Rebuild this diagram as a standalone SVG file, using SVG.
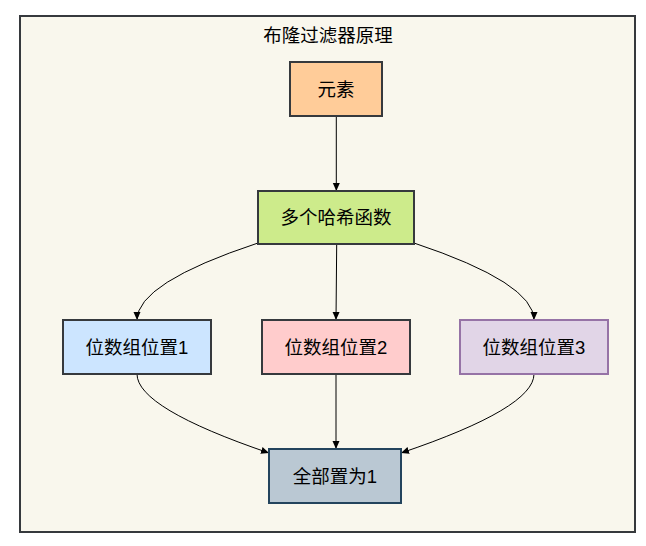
<svg xmlns="http://www.w3.org/2000/svg" width="646" height="546" viewBox="0 0 646 546">
<defs>
<style>
.node{stroke:#36393d;stroke-width:2}
.lbl{font-family:"Liberation Sans","Noto Sans CJK SC",sans-serif;font-size:18.5px;fill:#000;text-anchor:middle}
.edge{fill:none;stroke:#000;stroke-width:1;marker-end:url(#arrow)}
</style>
<marker id="arrow" viewBox="0 0 8 8" refX="8" refY="4" markerWidth="8" markerHeight="8" markerUnits="userSpaceOnUse" orient="auto">
<path d="M0,0.5 L8,4 L0,7.5 Z" fill="#000"/>
</marker>
</defs>
<rect width="646" height="546" fill="#ffffff"/>
<g id="frame">
<rect x="20" y="16" width="615" height="516" fill="#f9f7ed" stroke="#36393d" stroke-width="2"/>
<text class="lbl" x="328" y="42">布隆过滤器原理</text>
</g>
<g id="connectors">
<path class="edge" d="M336.3,116 L336.3,191"/>
<path class="edge" d="M258,243 Q137,283 137,320"/>
<path class="edge" d="M336.7,244 L336,320"/>
<path class="edge" d="M414,243 Q534,283 534,320"/>
<path class="edge" d="M137,374 Q137,408 269,453"/>
<path class="edge" d="M336,374 L336,449"/>
<path class="edge" d="M534,374 Q534,408 401,453"/>
</g>
<g id="node-element">
<rect class="node" x="290" y="62" width="92" height="54" fill="#ffcc99"/>
<text class="lbl" x="336" y="95.5">元素</text>
</g>
<g id="node-hash">
<rect class="node" x="258" y="191" width="156" height="53" fill="#cdeb8b"/>
<text class="lbl" x="336" y="224">多个哈希函数</text>
</g>
<g id="node-pos1">
<rect class="node" x="63" y="320" width="148" height="54" fill="#cce5ff"/>
<text class="lbl" x="137" y="353.5">位数组位置1</text>
</g>
<g id="node-pos2">
<rect class="node" x="262" y="320" width="148" height="54" fill="#ffcccc"/>
<text class="lbl" x="336" y="353.5">位数组位置2</text>
</g>
<g id="node-pos3">
<rect x="460" y="320" width="148" height="54" fill="#e1d5e7" stroke="#9673a6" stroke-width="2"/>
<text class="lbl" x="534" y="353.5">位数组位置3</text>
</g>
<g id="node-all">
<rect x="269" y="449" width="132" height="54" fill="#bac8d3" stroke="#23445d" stroke-width="2"/>
<text class="lbl" x="335" y="482.5">全部置为1</text>
</g>
</svg>
